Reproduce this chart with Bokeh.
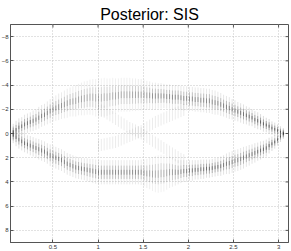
import numpy as np
from bokeh.plotting import figure
from bokeh.models import Range1d, FixedTicker, ColumnDataSource
from bokeh.embed import file_html
from bokeh.resources import INLINE

# ---------------- data ----------------
title_text = "Posterior: SIS"
t_start = 0.06          # first time step
t_step = 0.0315         # time step between particle columns

upper_center = [
    -0.1, -0.3, -0.5, -0.6, -0.75, -0.85, -0.95, -1.05, -1.15, -1.3,
    -1.45, -1.55, -1.7, -1.85, -2.0, -2.1, -2.2, -2.3, -2.4, -2.5,
    -2.6, -2.65, -2.7, -2.8, -2.85, -2.9, -2.95, -3.0, -3.0, -2.95,
    -2.9, -2.95, -3.0, -3.0, -3.05, -3.1, -3.1, -3.15, -3.2, -3.2,
    -3.2, -3.2, -3.2, -3.2, -3.2, -3.2, -3.2, -3.15, -3.15, -3.1,
    -3.1, -3.1, -3.1, -3.1, -3.05, -3.05, -3.0, -3.0, -3.0, -2.95,
    -2.9, -2.9, -2.85, -2.85, -2.8, -2.8, -2.75, -2.75, -2.7, -2.7,
    -2.6, -2.55, -2.5, -2.4, -2.3, -2.2, -2.1, -2.0, -1.9, -1.8,
    -1.7, -1.6, -1.5, -1.4, -1.3, -1.15, -1.05, -0.95, -0.8, -0.7,
    -0.6, -0.45, -0.35, -0.25, -0.15, -0.05]
upper_half = [
    0.7, 0.75, 0.75, 0.75, 0.8, 0.8, 0.8, 0.85, 0.85, 0.9,
    0.9, 0.9, 0.95, 1.0, 1.0, 1.05, 1.1, 1.1, 1.15, 1.2,
    1.2, 1.25, 1.3, 1.3, 1.35, 1.4, 1.4, 1.45, 1.5, 1.55,
    1.6, 1.6, 1.6, 1.55, 1.5, 1.5, 1.45, 1.4, 1.4, 1.4,
    1.4, 1.4, 1.35, 1.35, 1.3, 1.3, 1.25, 1.2, 1.15, 1.1,
    1.1, 1.05, 1.05, 1.0, 1.0, 1.0, 1.0, 1.0, 1.0, 1.0,
    1.0, 1.0, 1.0, 1.0, 1.0, 1.0, 1.0, 1.0, 1.0, 1.0,
    1.0, 1.0, 0.95, 0.95, 0.9, 0.9, 0.9, 0.85, 0.85, 0.8,
    0.8, 0.8, 0.75, 0.75, 0.7, 0.7, 0.7, 0.65, 0.65, 0.6,
    0.6, 0.55, 0.55, 0.5, 0.45, 0.4]
lower_center = [
    0.1, 0.3, 0.5, 0.65, 0.8, 0.9, 1.0, 1.1, 1.2, 1.3,
    1.4, 1.5, 1.65, 1.8, 1.9, 2.0, 2.1, 2.2, 2.35, 2.5,
    2.6, 2.7, 2.8, 2.85, 2.9, 2.95, 3.0, 3.05, 3.1, 3.15,
    3.2, 3.2, 3.2, 3.2, 3.2, 3.2, 3.2, 3.2, 3.2, 3.2,
    3.2, 3.2, 3.2, 3.2, 3.2, 3.2, 3.25, 3.3, 3.3, 3.35,
    3.35, 3.35, 3.3, 3.3, 3.25, 3.2, 3.2, 3.2, 3.2, 3.15,
    3.1, 3.1, 3.05, 3.05, 3.0, 3.0, 2.95, 2.95, 2.9, 2.9,
    2.85, 2.8, 2.75, 2.7, 2.6, 2.5, 2.45, 2.35, 2.25, 2.2,
    2.1, 2.0, 1.9, 1.8, 1.7, 1.6, 1.5, 1.4, 1.3, 1.2,
    1.0, 0.85, 0.7, 0.5, 0.25, 0.05]
lower_half = [
    0.7, 0.75, 0.75, 0.75, 0.75, 0.75, 0.8, 0.8, 0.8, 0.85,
    0.85, 0.85, 0.85, 0.9, 0.9, 0.9, 0.9, 0.9, 0.9, 0.9,
    0.9, 0.9, 0.9, 0.9, 0.9, 0.9, 0.95, 0.95, 1.0, 1.0,
    1.0, 1.0, 1.0, 1.0, 1.0, 1.0, 1.0, 1.0, 1.0, 1.0,
    1.0, 1.0, 1.0, 1.0, 1.0, 1.05, 1.1, 1.2, 1.3, 1.4,
    1.5, 1.55, 1.55, 1.5, 1.4, 1.3, 1.2, 1.1, 1.0, 0.95,
    0.9, 0.9, 0.85, 0.85, 0.8, 0.8, 0.8, 0.8, 0.75, 0.75,
    0.75, 0.75, 0.75, 0.8, 0.8, 0.85, 0.9, 0.9, 0.9, 0.9,
    0.9, 0.9, 0.85, 0.85, 0.8, 0.8, 0.75, 0.75, 0.7, 0.7,
    0.65, 0.6, 0.55, 0.5, 0.45, 0.4]

# faint crossing particles in the middle (start at column 30)
ghost_first_col = 30
ghost_a = [
    -2.0, -1.9, -1.8, -1.65, -1.5, -1.35, -1.2, -1.05, -0.9, -0.75,
    -0.6, -0.45, -0.35, -0.25, -0.1, 0.0, 0.15, 0.3, 0.45, 0.6,
    0.75, 0.9, 1.05, 1.2, 1.35, 1.5, 1.65, 1.8, 1.95, 2.1, 2.2]
ghost_b = [
    1.0, 0.95, 0.9, 0.85, 0.8, 0.75, 0.7, 0.6, 0.5, 0.4,
    0.3, 0.2, 0.1, 0.0, -0.1, -0.2, -0.35, -0.5, -0.65, -0.8,
    -0.95, -1.05, -1.15, -1.25, -1.35, -1.45, -1.55, -1.65, -1.75, -1.85, -1.95]
ghost_half = 0.5

x_ticks = [0.5, 1, 1.5, 2, 2.5, 3]
y_ticks = [-8, -6, -4, -2, 0, 2, 4, 6, 8]
x_lo, x_hi = 0.03, 3.11
y_top, y_bottom = -9, 9

# ---------------- figure ----------------
p = figure(width=299, height=259,
           x_range=Range1d(x_lo, x_hi), y_range=Range1d(y_bottom, y_top),
           output_backend="svg", toolbar_location=None,
           min_border_left=18, min_border_right=3,
           min_border_top=32, min_border_bottom=9,
           background_fill_color="white", border_fill_color="white")
p.styles = {"margin": "-8px"}

p.title.text = title_text
p.title.text_font = "Liberation Sans"
p.title.text_font_size = "16px"
p.title.text_font_style = "normal"
p.title.align = "center"
p.title.text_color = "black"
p.title.standoff = 4

p.outline_line_color = "#555555"

for g in (p.xgrid, p.ygrid):
    g.grid_line_color = "#c4c4c4"
    g.grid_line_dash = "1 2"
    g.grid_line_width = 1
p.xgrid.ticker = FixedTicker(ticks=x_ticks)
p.ygrid.ticker = FixedTicker(ticks=y_ticks)

for ax, ticks in ((p.xaxis[0], x_ticks), (p.yaxis[0], y_ticks)):
    ax.ticker = FixedTicker(ticks=ticks)
    ax.major_tick_in = 3
    ax.major_tick_out = 0
    ax.minor_tick_in = 0
    ax.minor_tick_out = 0
    ax.axis_line_color = "#555555"
    ax.major_tick_line_color = "#555555"
    ax.major_label_text_font = "Liberation Sans"
    ax.major_label_text_color = "#333333"
    ax.major_label_text_font_size = "6px"
    ax.major_label_standoff = 2
    ax.axis_label_standoff = 0

# inward ticks on the top and right edges of the box
xt = np.asarray(x_ticks, float)
yt = np.asarray(y_ticks, float)
tick_y = 3 * (y_bottom - y_top) / 218.0
tick_x = 3 * (x_hi - x_lo) / 278.0
p.segment(x0=xt, y0=np.full(len(xt), y_top), x1=xt, y1=np.full(len(xt), y_top + tick_y),
          line_color="#555555", line_width=1)
p.segment(x0=np.full(len(yt), x_hi), y0=yt, x1=np.full(len(yt), x_hi - tick_x), y1=yt,
          line_color="#555555", line_width=1)

# ---------------- particle columns ----------------
n = len(upper_center)
t = t_start + t_step * np.arange(n)


def add_branch(center, half):
    c = np.asarray(center, float)
    h = np.asarray(half, float)
    base = np.clip(0.9 / h, 0.55, 1.4)
    for frac, a in ((1.0, 0.10), (0.55, 0.20), (0.2, 0.30)):
        src = ColumnDataSource(dict(x=t, y0=c - frac * h, y1=c + frac * h,
                                    a=np.clip(a * base, 0, 1)))
        p.segment(x0="x", y0="y0", x1="x", y1="y1", source=src,
                  line_color="black", line_alpha="a", line_width=1)


add_branch(upper_center, upper_half)
add_branch(lower_center, lower_half)

t_g = t[ghost_first_col:ghost_first_col + len(ghost_a)]
for gc in (ghost_a, ghost_b):
    c = np.asarray(gc, float)
    src = ColumnDataSource(dict(x=t_g, y0=c - ghost_half, y1=c + ghost_half))
    p.segment(x0="x", y0="y0", x1="x", y1="y1", source=src,
              line_color="black", line_alpha=0.08, line_width=1)

open("out.html", "w").write(file_html(p, INLINE))
